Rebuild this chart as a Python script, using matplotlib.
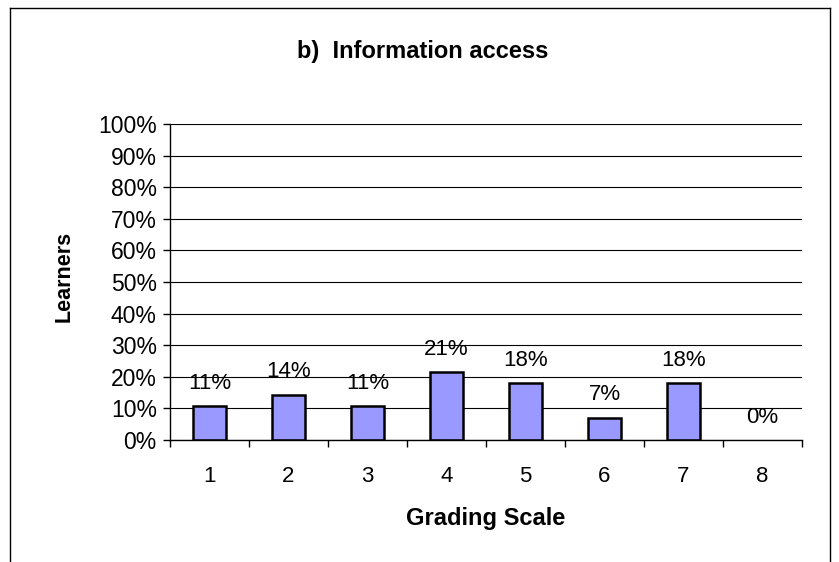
import matplotlib
matplotlib.use("Agg")
import matplotlib.pyplot as plt
from matplotlib.lines import Line2D
from matplotlib.ticker import FixedLocator, NullFormatter

plt.rcParams['font.family'] = ['Liberation Sans', 'DejaVu Sans']

categories = ['1', '2', '3', '4', '5', '6', '7', '8']
values = [10.7, 14.3, 10.7, 21.4, 17.9, 7.1, 17.9, 0.0]
value_labels = ['11%', '14%', '11%', '21%', '18%', '7%', '18%', '0%']
title = 'b)  Information access'
xlabel = 'Grading Scale'
ylabel = 'Learners'

W, H = 839, 562
fig = plt.figure(figsize=(W / 100, H / 100), dpi=100)
ax_l, ax_r, ax_t, ax_b = 170, 802, 124, 440
ax = fig.add_axes([ax_l / W, 1 - ax_b / H, (ax_r - ax_l) / W, (ax_b - ax_t) / H])

x = list(range(len(categories)))
lws = [1.8 if v > 0 else 0 for v in values]
ax.bar(x, values, width=0.42, color='#9999FF', edgecolor='black', linewidth=lws, zorder=3)

for xi, v, lab in zip(x, values, value_labels):
    ax.annotate(lab, (xi, v), xytext=(0, 12.5), textcoords='offset points',
                ha='center', va='baseline', fontsize=16)

ax.set_xlim(-0.5, len(categories) - 0.5)
ax.set_ylim(0, 100)
ax.set_yticks(range(0, 101, 10))
ax.set_yticklabels([f'{t}%' for t in range(0, 101, 10)], fontsize=16.5)
ax.yaxis.grid(True, color='black', linewidth=0.8, zorder=0)

ax.set_xticks(x)
ax.set_xticklabels(categories, fontsize=16)
ax.tick_params(axis='x', which='major', length=0, pad=19)
ax.xaxis.set_minor_locator(FixedLocator([i - 0.5 for i in range(len(categories) + 1)]))
ax.xaxis.set_minor_formatter(NullFormatter())
ax.tick_params(axis='x', which='minor', length=5, width=1, direction='out')
ax.tick_params(axis='y', length=5, width=1, direction='out', pad=4.5)

for s in ['top', 'right']:
    ax.spines[s].set_visible(False)
for s in ['left', 'bottom']:
    ax.spines[s].set_linewidth(1)
    ax.spines[s].set_zorder(4)

ax.set_xlabel(xlabel, fontsize=17, fontweight='bold')
ax.xaxis.set_label_coords(0.5, -(507 - ax_b) / (ax_b - ax_t))
ax.xaxis.label.set_va('top')

ax.set_ylabel(ylabel, fontsize=15.5, fontweight='bold')
ax.yaxis.label.set_va('center')
ax.yaxis.set_label_coords((64 - ax_l) / (ax_r - ax_l), (ax_b - 276.5) / (ax_b - ax_t))

fig.text(422.5 / W, 1 - 58 / H, title, fontsize=17, fontweight='bold',
         ha='center', va='baseline')

# outer chart border
bl, bt, br = 10 / W, 1 - 8 / H, 830 / W
fig.add_artist(Line2D([bl, bl], [0, bt], transform=fig.transFigure, color='black', lw=1))
fig.add_artist(Line2D([bl, br], [bt, bt], transform=fig.transFigure, color='black', lw=1))
fig.add_artist(Line2D([br, br], [0, bt], transform=fig.transFigure, color='black', lw=1))

fig.savefig('out.png', dpi=100, facecolor='white')
